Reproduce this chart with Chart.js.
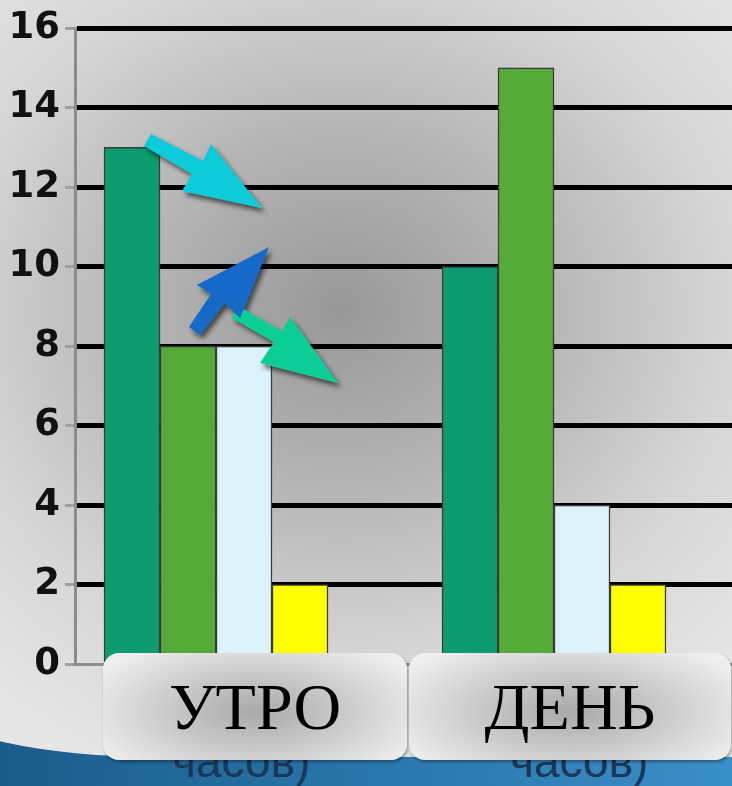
<!DOCTYPE html>
<html>
<head>
<meta charset="utf-8">
<script src="https://cdn.jsdelivr.net/npm/chart.js@4.4.1/dist/chart.umd.min.js"></script>
<style>
  html, body { margin: 0; padding: 0; }
  body {
    width: 732px; height: 786px; overflow: hidden; position: relative;
    background: linear-gradient(90deg, #1a5c8a 0%, #2a78ad 55%, #3a8fc7 100%);
  }
  #panel {
    position: absolute; left: -60px; top: -40px; width: 800px; height: 797px;
    border-bottom-left-radius: 220px 50px;
    background: radial-gradient(ellipse 560px 500px at 400px 350px, #989898 0%, #b4b4b4 35%, #d6d6d6 70%, #e6e6e6 100%);
  }
  .sub {
    position: absolute; top: 734px; font: 46px "Liberation Sans", Arial, sans-serif;
    color: #1b3656; z-index: 1; white-space: nowrap;
  }
  #wrap { position: absolute; left: 0; top: 0; width: 732px; height: 786px; z-index: 2; }
  .box {
    position: absolute; top: 653px; height: 107px; z-index: 3;
    border-radius: 16px;
    background: radial-gradient(ellipse 60% 75% at 50% 55%, #a9a9a9 0%, #cfcfcf 55%, #efefef 100%);
    box-shadow: 1px 2px 3px rgba(0,0,0,0.35);
    font: 66px "Liberation Serif", "Times New Roman", serif; color: #000;
    display: flex; align-items: center; justify-content: center;
  }
  #arrows { position: absolute; left: 0; top: 0; z-index: 4; }
</style>
</head>
<body>
<div id="panel"></div>
<div class="sub" style="left:172px">часов)</div>
<div class="sub" style="left:510px">часов)</div>
<div id="wrap"><canvas id="chart"></canvas></div>
<div class="box" id="box0" style="left:103px; width:304px"></div>
<div class="box" id="box1" style="left:409px; width:322px"></div>
<svg id="arrows" width="732" height="786">
  <defs>
    <filter id="sh" x="-20%" y="-20%" width="140%" height="140%">
      <feDropShadow dx="3" dy="4" stdDeviation="2.5" flood-color="#000" flood-opacity="0.6"/>
    </filter>
  </defs>
  <g filter="url(#sh)">
    <polygon fill="#0ccbd8" points="144,146 151,134 203,161 211,144 262,208 182,191 192,174"/>
    <polygon fill="#10cd97" points="238,306 232,318 274,342 260,363 338,383 290,317 282,331"/>
    <polygon fill="#1269c6" points="189,327 200,335 225,303 240,318 269,247 197,285 211,294"/>
  </g>
</svg>
<script>
const categories = ['УТРО', 'ДЕНЬ'];
const seriesNames = ['Ряд 1', 'Ряд 2', 'Ряд 3', 'Ряд 4'];
const series1 = [13, 10];
const series2 = [8, 15];
const series3 = [8, 4];
const series4 = [2, 2];
const yMax = 16;
const yStep = 2;

const colors = ['#0e9b70', '#55aa38', '#dcf2fa', '#ffff00'];

// подписи категорий в плашках
categories.forEach((c, i) => { document.getElementById('box' + i).textContent = c; });

function points(values) {
  return values.map((v, i) => ({ x: i, y: v }));
}

const allSeries = [series1, series2, series3, series4];
const ctx = document.getElementById('chart').getContext('2d');

const chart = new Chart(ctx, {
  type: 'bar',
  data: {
    datasets: allSeries.map((s, i) => ({
      label: seriesNames[i],
      data: points(s),
      backgroundColor: colors[i],
      borderColor: '#3a3a3a',
      borderWidth: 1.5,
      borderSkipped: 'bottom',
      barThickness: 56
    }))
  },
  options: {
    responsive: true,
    maintainAspectRatio: false,
    animation: false,
    layout: { padding: { top: 28, bottom: 122, left: 0, right: 0 } },
    plugins: {
      legend: { display: false },
      tooltip: { enabled: false }
    },
    scales: {
      x: {
        type: 'linear',
        display: false,
        bounds: 'data',
        offset: false,
        min: -0.4172,
        max: 1.5266,
        ticks: { stepSize: 1, includeBounds: false }
      },
      y: {
        min: 0,
        max: yMax,
        afterFit: function(scale) { scale.width = 75; },
        ticks: {
          stepSize: yStep,
          padding: 5,
          color: '#111',
          font: { family: 'DejaVu Sans', weight: 'bold', size: 37 }
        },
        border: { display: true, color: '#8c8c8c', width: 3 },
        grid: {
          color: function(c) { return c.tick && c.tick.value === 0 ? '#8c8c8c' : '#000'; },
          lineWidth: function(c) { return c.tick && c.tick.value === 0 ? 3 : 5; },
          tickColor: '#a0a0a0',
          tickWidth: 3,
          tickLength: 10
        }
      }
    }
  }
});
</script>
</body>
</html>
